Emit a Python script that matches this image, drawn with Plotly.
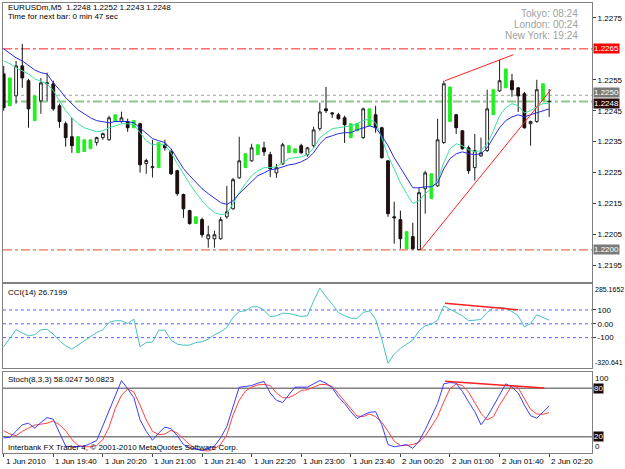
import plotly.graph_objects as go

# ---------------- data ----------------
bars = list(range(89))
kind = "dguddguudd" "ddggguuugu" "dgduugdddd" "dgduuuuuug" "ugdduuggdu" "uuddddggug" "dddddgduug" "uugddduuug" "ugddduugu"

open_ = [1.22569, 1.22466, 1.22498, 1.22595, 1.22547, 1.22418, 1.22482, 1.22537, 1.22537, 1.22466,
         1.22408, 1.22366, 1.22314, 1.22318, 1.22327, 1.22347, 1.22363, 1.22356, 1.22415, 1.22415,
         1.22415, 1.22395, 1.22408, 1.22279, 1.22266, 1.22266, 1.22340, 1.22318, 1.22256, 1.22179,
         1.22127, 1.22085, 1.22098, 1.22036, 1.22036, 1.22036, 1.22107, 1.22133, 1.22233, 1.22266,
         1.22288, 1.22308, 1.22330, 1.22308, 1.22249, 1.22278, 1.22314, 1.22314, 1.22337, 1.22308,
         1.22337, 1.22392, 1.22456, 1.22443, 1.22437, 1.22427, 1.22363, 1.22385, 1.22363, 1.22401,
         1.22437, 1.22395, 1.22288, 1.22107, 1.22098, 1.22004, 1.22043, 1.22001, 1.22198, 1.22166,
         1.22207, 1.22347, 1.22415, 1.22437, 1.22385, 1.22330, 1.22266, 1.22304, 1.22321, 1.22437,
         1.22514, 1.22524, 1.22547, 1.22524, 1.22505, 1.22408, 1.22415, 1.22482, 1.22480]
close = [1.22460, 1.22556, 1.22595, 1.22556, 1.22456, 1.22498, 1.22540, 1.22540, 1.22456, 1.22415,
         1.22363, 1.22337, 1.22366, 1.22356, 1.22356, 1.22363, 1.22376, 1.22427, 1.22437, 1.22427,
         1.22395, 1.22418, 1.22275, 1.22289, 1.22269, 1.22347, 1.22330, 1.22246, 1.22182, 1.22133,
         1.22085, 1.22107, 1.22049, 1.22049, 1.22049, 1.22098, 1.22123, 1.22227, 1.22288, 1.22311,
         1.22330, 1.22340, 1.22317, 1.22262, 1.22266, 1.22340, 1.22337, 1.22327, 1.22314, 1.22330,
         1.22388, 1.22446, 1.22450, 1.22440, 1.22424, 1.22405, 1.22408, 1.22408, 1.22456, 1.22456,
         1.22395, 1.22298, 1.22117, 1.22104, 1.22036, 1.22059, 1.22004, 1.22185, 1.22249, 1.22246,
         1.22356, 1.22537, 1.22527, 1.22395, 1.22327, 1.22256, 1.22321, 1.22314, 1.22456, 1.22518,
         1.22547, 1.22585, 1.22518, 1.22498, 1.22395, 1.22415, 1.22518, 1.22537, 1.22480]
high = [1.22595, 1.22556, 1.22611, 1.22666, 1.22553, 1.22498, 1.22556, 1.22573, 1.22547, 1.22473,
        1.22415, 1.22427, 1.22366, 1.22356, 1.22356, 1.22366, 1.22379, 1.22434, 1.22437, 1.22447,
        1.22424, 1.22418, 1.22411, 1.22295, 1.22356, 1.22347, 1.22356, 1.22324, 1.22259, 1.22182,
        1.22130, 1.22107, 1.22104, 1.22078, 1.22062, 1.22107, 1.22207, 1.22233, 1.22366, 1.22311,
        1.22343, 1.22340, 1.22350, 1.22317, 1.22278, 1.22346, 1.22337, 1.22327, 1.22343, 1.22333,
        1.22398, 1.22476, 1.22527, 1.22446, 1.22443, 1.22434, 1.22408, 1.22408, 1.22460, 1.22456,
        1.22466, 1.22398, 1.22291, 1.22156, 1.22127, 1.22059, 1.22088, 1.22201, 1.22256, 1.22246,
        1.22424, 1.22547, 1.22527, 1.22440, 1.22388, 1.22337, 1.22375, 1.22363, 1.22518, 1.22518,
        1.22615, 1.22585, 1.22569, 1.22527, 1.22511, 1.22418, 1.22550, 1.22537, 1.22520]
low = [1.22450, 1.22466, 1.22473, 1.22524, 1.22395, 1.22418, 1.22440, 1.22482, 1.22450, 1.22395,
       1.22334, 1.22314, 1.22314, 1.22318, 1.22327, 1.22337, 1.22356, 1.22353, 1.22415, 1.22411,
       1.22382, 1.22395, 1.22250, 1.22246, 1.22234, 1.22266, 1.22321, 1.22243, 1.22175, 1.22104,
       1.22082, 1.22085, 1.22040, 1.22007, 1.22007, 1.22033, 1.22101, 1.22130, 1.22230, 1.22266,
       1.22285, 1.22308, 1.22304, 1.22236, 1.22233, 1.22275, 1.22314, 1.22314, 1.22311, 1.22301,
       1.22330, 1.22385, 1.22443, 1.22427, 1.22421, 1.22346, 1.22363, 1.22385, 1.22359, 1.22401,
       1.22379, 1.22295, 1.22107, 1.22020, 1.22004, 1.22004, 1.22001, 1.22000, 1.22117, 1.22166,
       1.22204, 1.22343, 1.22415, 1.22375, 1.22324, 1.22246, 1.22224, 1.22301, 1.22317, 1.22437,
       1.22511, 1.22524, 1.22495, 1.22446, 1.22392, 1.22337, 1.22411, 1.22482, 1.22430]

ma_slow = [1.22650, 1.22634, 1.22621, 1.22611, 1.22595, 1.22582, 1.22573, 1.22569, 1.22540, 1.22518,
           1.22492, 1.22473, 1.22453, 1.22440, 1.22427, 1.22418, 1.22415, 1.22411, 1.22415, 1.22415,
           1.22415, 1.22411, 1.22395, 1.22376, 1.22360, 1.22353, 1.22347, 1.22327, 1.22295, 1.22263,
           1.22240, 1.22218, 1.22198, 1.22182, 1.22166, 1.22153, 1.22147, 1.22159, 1.22182, 1.22201,
           1.22220, 1.22240, 1.22249, 1.22259, 1.22262, 1.22269, 1.22275, 1.22278, 1.22285, 1.22295,
           1.22314, 1.22343, 1.22363, 1.22369, 1.22376, 1.22379, 1.22379, 1.22388, 1.22395, 1.22401,
           1.22395, 1.22369, 1.22337, 1.22298, 1.22266, 1.22233, 1.22201, 1.22201, 1.22204, 1.22204,
           1.22217, 1.22262, 1.22295, 1.22311, 1.22317, 1.22311, 1.22308, 1.22311, 1.22330, 1.22363,
           1.22395, 1.22418, 1.22430, 1.22437, 1.22430, 1.22437, 1.22443, 1.22450, 1.22456]
ma_fast = [1.22611, 1.22602, 1.22589, 1.22579, 1.22569, 1.22553, 1.22544, 1.22537, 1.22515, 1.22482,
           1.22450, 1.22427, 1.22408, 1.22395, 1.22388, 1.22382, 1.22385, 1.22395, 1.22401, 1.22408,
           1.22408, 1.22405, 1.22379, 1.22353, 1.22340, 1.22343, 1.22340, 1.22314, 1.22279, 1.22246,
           1.22214, 1.22185, 1.22159, 1.22137, 1.22121, 1.22114, 1.22117, 1.22150, 1.22185, 1.22214,
           1.22240, 1.22256, 1.22266, 1.22266, 1.22269, 1.22282, 1.22295, 1.22298, 1.22301, 1.22308,
           1.22330, 1.22363, 1.22379, 1.22392, 1.22395, 1.22398, 1.22401, 1.22408, 1.22418, 1.22424,
           1.22411, 1.22363, 1.22304, 1.22262, 1.22217, 1.22182, 1.22150, 1.22159, 1.22182, 1.22198,
           1.22224, 1.22282, 1.22327, 1.22343, 1.22337, 1.22324, 1.22317, 1.22321, 1.22343, 1.22385,
           1.22434, 1.22460, 1.22473, 1.22466, 1.22443, 1.22450, 1.22463, 1.22473, 1.22473]

cci = [-166, -103, -43, -67, -87, -79, -43, -39, -75, -123,
       -159, -183, -154, -123, -94, -63, -43, 10, 22, 22,
       2, 34, -166, -135, -132, -46, -46, -118, -147, -154,
       -154, -135, -130, -111, -79, -58, -26, 46, 89, 94,
       123, 123, 99, 51, 58, 77, 75, 65, 53, 58,
       166, 258, 195, 142, 82, 58, 41, 39, 82, 94,
       34, -111, -286, -219, -178, -147, -118, -51, -14, -2,
       26, 130, 106, 82, 58, 22, 26, 31, 82, 118,
       118, 113, 89, 58, -22, 2, 65, 46, 26.7199]

stoch_main = [18.7, 19.5, 26.8, 34.9, 36.9, 30.8, 37.7, 43.8, 41.8, 24.7,
              8.5, 7.7, 7.7, 8.5, 11.8, 15.4, 33.7, 53.1, 71.4, 89.6,
              79.5, 68.5, 41.0, 26.8, 15.8, 24.7, 32.0, 30.0, 21.5, 10.5,
              6.5, 4.5, 3.2, 5.7, 8.5, 18.7, 32.8, 57.2, 81.5, 82.3,
              83.5, 86.4, 88.4, 74.2, 65.3, 62.4, 71.4, 81.5, 81.5, 81.5,
              85.6, 89.6, 86.4, 80.7, 69.3, 61.2, 51.1, 42.6, 47.0, 50.3,
              51.1, 34.9, 10.5, 7.7, 8.9, 10.5, 5.7, 14.6, 28.8, 45.0,
              61.2, 85.6, 87.2, 86.4, 76.2, 63.3, 51.1, 34.9, 45.0, 58.0,
              71.4, 85.6, 81.5, 74.2, 59.2, 46.2, 43.0, 49.9, 58.0247]
stoch_signal = [27.6, 23.5, 21.5, 26.8, 30.8, 34.5, 35.7, 36.9, 39.7, 34.9,
                27.6, 16.6, 9.3, 7.7, 7.7, 9.3, 16.6, 32.0, 55.1, 71.4,
                79.5, 75.4, 59.2, 41.0, 26.8, 22.7, 23.5, 28.0, 24.7, 17.4,
                10.5, 5.3, 3.2, 2.4, 5.3, 10.5, 22.7, 47.0, 65.3, 76.6,
                81.5, 84.3, 84.7, 83.5, 74.2, 68.5, 68.5, 72.2, 77.4, 78.3,
                81.5, 84.7, 84.7, 82.3, 73.4, 64.5, 55.1, 45.8, 45.0, 48.3,
                45.0, 38.1, 26.8, 14.6, 9.3, 9.3, 10.5, 13.4, 20.7, 33.7,
                45.0, 63.3, 79.5, 85.6, 83.5, 75.4, 62.0, 49.1, 41.0, 45.0,
                59.2, 71.4, 83.5, 80.7, 67.3, 53.9, 48.3, 47.8, 50.0823]

# drawn trend lines (bar index, value)
trend_top_x, trend_top_y = [71.2, 82.2], [1.22547, 1.22631]
trend_up_x, trend_up_y = [67.3, 88.3], [1.22000, 1.22518]
cci_trend_x, cci_trend_y = [71.2, 83.0], [149, 101]
stoch_trend_x, stoch_trend_y = [71.2, 87.2], [88.8, 80.3]

price_ticks = [1.2195, 1.2205, 1.2215, 1.2225, 1.2235, 1.2245, 1.2255, 1.2275]
time_idx = [0, 8, 16, 24, 32, 40, 48, 56, 64, 72, 80, 88]
time_labels = ["1 Jun 2010", "1 Jun 19:40", "1 Jun 20:20", "1 Jun 21:00", "1 Jun 21:40",
               "1 Jun 22:20", "1 Jun 23:00", "1 Jun 23:40", "2 Jun 00:20", "2 Jun 01:00",
               "2 Jun 01:40", "2 Jun 02:20"]
cci_levels = [100, 0, -100]
stoch_levels = [80, 20]

# ---------------- figure ----------------
FONT = "Liberation Sans, Arial, sans-serif"
fig = go.Figure()

styles = {
    "u": dict(fill="#ffffff", line="#202020"),
    "d": dict(fill="#2e0a0a", line="#101010"),
    "g": dict(fill="#22ee22", line="#22ee22"),
}
for k, st in styles.items():
    idx = [i for i in bars if kind[i] == k]
    fig.add_trace(go.Candlestick(
        x=[bars[i] for i in idx],
        open=[open_[i] for i in idx], high=[high[i] for i in idx],
        low=[low[i] for i in idx], close=[close[i] for i in idx],
        increasing=dict(fillcolor=st["fill"], line=dict(color=st["line"], width=1)),
        decreasing=dict(fillcolor=st["fill"], line=dict(color=st["line"], width=1)),
        whiskerwidth=0, hoverinfo="skip", xaxis="x", yaxis="y"))

fig.add_trace(go.Scatter(x=bars, y=ma_fast, mode="lines", line=dict(color="#3ee0a0", width=1),
                         xaxis="x", yaxis="y"))
fig.add_trace(go.Scatter(x=bars, y=ma_slow, mode="lines", line=dict(color="#2a2ae0", width=1),
                         xaxis="x", yaxis="y"))
fig.add_trace(go.Scatter(x=trend_top_x, y=trend_top_y, mode="lines", line=dict(color="#ff2020", width=1),
                         xaxis="x", yaxis="y"))
fig.add_trace(go.Scatter(x=trend_up_x, y=trend_up_y, mode="lines", line=dict(color="#ff2020", width=1),
                         xaxis="x", yaxis="y"))

fig.add_trace(go.Scatter(x=bars, y=cci, mode="lines", line=dict(color="#45c0c0", width=1),
                         xaxis="x2", yaxis="y2"))
fig.add_trace(go.Scatter(x=cci_trend_x, y=cci_trend_y, mode="lines", line=dict(color="#ff2020", width=1.5),
                         xaxis="x2", yaxis="y2"))

fig.add_trace(go.Scatter(x=bars, y=stoch_signal, mode="lines", line=dict(color="#ff4040", width=1),
                         xaxis="x3", yaxis="y3"))
fig.add_trace(go.Scatter(x=bars, y=stoch_main, mode="lines", line=dict(color="#3c3cff", width=1),
                         xaxis="x3", yaxis="y3"))
fig.add_trace(go.Scatter(x=stoch_trend_x, y=stoch_trend_y, mode="lines", line=dict(color="#ff2020", width=1.5),
                         xaxis="x3", yaxis="y3"))

XR = [-0.112, 94.91]
border = "#808080"
xcommon = dict(range=XR, showgrid=False, zeroline=False, showline=True, mirror=True,
               linecolor=border, linewidth=1, showticklabels=False, fixedrange=True)
ycommon = dict(side="right", showgrid=False, zeroline=False, showline=True, mirror=True,
               linecolor=border, linewidth=1, ticks="outside", ticklen=3, tickcolor="#404040",
               tickfont=dict(family=FONT, size=8, color="#000000"))

fig.update_layout(
    width=625, height=469, margin=dict(l=2, r=31, t=2, b=16),
    paper_bgcolor="white", plot_bgcolor="white", showlegend=False, boxgap=0.36,
    font=dict(family=FONT, size=8, color="#000000"),
    xaxis=dict(domain=[0, 1], anchor="y", rangeslider=dict(visible=False), **xcommon),
    yaxis=dict(domain=[0.3792, 1.0], range=[1.218951, 1.227983], anchor="x",
               tickvals=price_ticks, ticktext=[f"{v:.4f}" for v in price_ticks], **ycommon),
    xaxis2=dict(domain=[0, 1], anchor="y2", **xcommon),
    yaxis2=dict(domain=[0.1885, 0.3747], range=[-320.641, 285.1652], anchor="x2",
                tickvals=[100, 0, -100], ticktext=["100", "0.00", "-100"], **ycommon),
    xaxis3=dict(domain=[0, 1], anchor="y3", ticks="outside", ticklen=3, tickcolor="#404040",
                tickvals=time_idx, **xcommon),
    yaxis3=dict(domain=[0.0, 0.1796], range=[0, 100], anchor="x3",
                tickvals=[], **ycommon),
)

shapes = []
def hline(yref, yv, color, dash, width=1):
    shapes.append(dict(type="line", xref="paper", x0=0, x1=1, yref=yref, y0=yv, y1=yv,
                       line=dict(color=color, dash=dash, width=width), layer="below"))

hline("y", 1.2265, "#ff2020", "dashdot")
hline("y", 1.2200, "#e05028", "dashdot")
hline("y", 1.2250, "#a0a0a0", "dot")
hline("y", 1.2248, "#8cc88c", "dashdot", 2)
for lv in cci_levels:
    hline("y2", lv, "#5a5aff", "dot")
for lv in stoch_levels:
    hline("y3", lv, "#808080", "solid", 1.5)
fig.update_layout(shapes=shapes)

ann = []
def px_x(px):
    return (px - 2) / 592.0
def px_y(py):
    return (453 - py) / 451.0

def text(px, py, s, size=8, color="#000000", xanchor="left", yanchor="middle"):
    ann.append(dict(xref="paper", yref="paper", x=px_x(px), y=px_y(py), text=s, showarrow=False,
                    xanchor=xanchor, yanchor=yanchor, font=dict(family=FONT, size=size, color=color)))

text(5, 7, "EURUSDm,M5  1.2248 1.2252 1.2243 1.2248")
text(5, 16, "Time for next bar: 0 min 47 sec")
text(582, 13, "Tokyo: 08:24", size=10, color="#a0a0a0", xanchor="right")
text(582, 24, "London: 00:24", size=10, color="#a0a0a0", xanchor="right")
text(582, 35, "New York: 19:24", size=10, color="#a0a0a0", xanchor="right")
text(5, 292, "CCI(14) 26.7199")
text(5, 379, "Stoch(8,3,3) 58.0247 50.0823")
text(5, 447, "Interbank FX Trader 4, © 2001-2010 MetaQuotes Software Corp.")

def boxlabel(yref, yv, s, bg, fg="#ffffff", yanchor="middle", size=8):
    ann.append(dict(xref="paper", yref=yref, x=1.0, xshift=1, y=yv, text=s, showarrow=False,
                    xanchor="left", yanchor=yanchor, bgcolor=bg, borderpad=0,
                    font=dict(family=FONT, size=size, color=fg)))

boxlabel("y", 1.2265, "1.2265", "#ff0000")
boxlabel("y", 1.2249, "1.2250", "#7a7a7a", yanchor="bottom")
boxlabel("y", 1.2249, "1.2248", "#2a0c0c", yanchor="top")
boxlabel("y", 1.2200, "1.2200", "#7a7a7a")
boxlabel("y3", 80, "80", "#1a0a0a")
boxlabel("y3", 20, "20", "#1a0a0a")

def sidelabel(yref, yv, s, yanchor, size=8):
    ann.append(dict(xref="paper", yref=yref, x=1.0, xshift=1, y=yv, text=s, showarrow=False,
                    xanchor="left", yanchor=yanchor, font=dict(family=FONT, size=size, color="#000000")))

sidelabel("y2", 285.1652, "285.1652", "top", size=7)
sidelabel("y2", -320.641, "-320.641", "bottom", size=7)
sidelabel("y3", 100, "100", "top")
sidelabel("y3", 0, "0", "bottom")

for i, lab in zip(time_idx, time_labels):
    ann.append(dict(xref="x3", yref="paper", x=i, y=0, yshift=-2, text=lab, showarrow=False,
                    xanchor="left", yanchor="top", font=dict(family=FONT, size=8, color="#000000")))

fig.update_layout(annotations=ann)
fig.write_html("out.html")
